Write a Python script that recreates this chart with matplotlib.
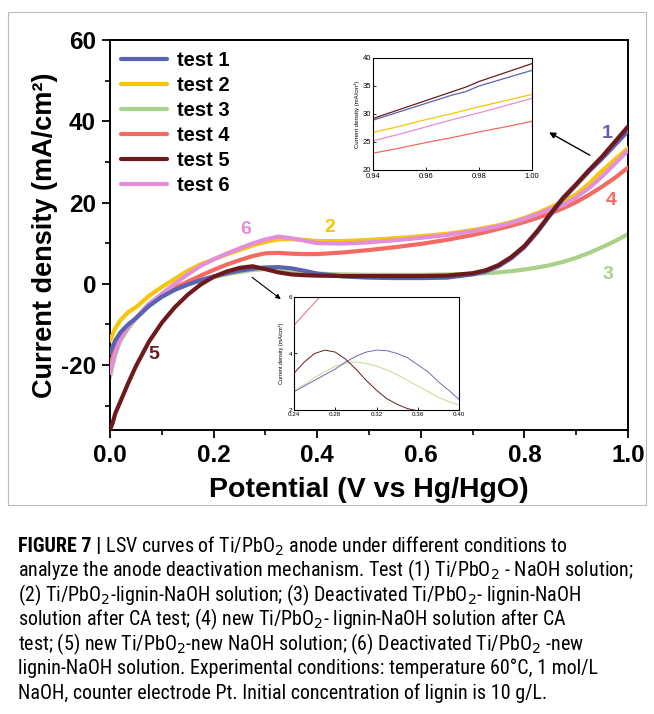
import os
import matplotlib
matplotlib.use("Agg")
import matplotlib.pyplot as plt
from matplotlib import font_manager as fm
from matplotlib.patches import Rectangle
import numpy as np

# ---------------- data ----------------
potential = [0, 0.005, 0.01, 0.02, 0.035, 0.05, 0.075, 0.1, 0.125, 0.15, 0.175, 0.2,
             0.225, 0.25, 0.275, 0.3, 0.325, 0.35, 0.375, 0.4, 0.45, 0.5, 0.55, 0.6,
             0.65, 0.7, 0.725, 0.75, 0.775, 0.8, 0.825, 0.85, 0.875, 0.9, 0.925, 0.95,
             0.975, 1.0]

test1 = [-17, -15.5, -14, -12, -10, -8.5, -5.5, -3.2, -1.5, -0.2, 0.9, 1.8, 2.6, 3.2, 3.7,
         4.0, 4.1, 3.8, 3.2, 2.5, 1.8, 1.5, 1.4, 1.4, 1.5, 2.3, 3.0, 4.3, 6.3, 9.0, 12.7,
         16.9, 20.9, 24.3, 27.7, 30.8, 34.2, 37.6]
test2 = [-14, -12.5, -11, -9, -7, -5.8, -3, -0.8, 1.2, 3.2, 4.8, 6.0, 7.2, 8.3, 9.4, 10.3,
         10.9, 11.0, 10.8, 10.5, 10.5, 10.8, 11.2, 11.7, 12.3, 13.2, 13.8, 14.4, 15.2, 16.2,
         17.4, 18.8, 20.3, 22.0, 24.7, 27.8, 30.6, 33.4]
test3 = [-23, -20, -17.5, -14, -11, -8.5, -5.5, -3.2, -1.5, -0.2, 0.8, 1.6, 2.3, 2.9, 3.4,
         3.6, 3.5, 3.2, 2.8, 2.5, 2.3, 2.2, 2.2, 2.2, 2.3, 2.4, 2.6, 2.8, 3.1, 3.5, 4.0,
         4.6, 5.4, 6.4, 7.6, 9.0, 10.5, 12.2]
test4 = [-20, -18, -16, -13.5, -10.5, -8.5, -5, -2.8, -1.0, 0.5, 2.0, 3.4, 4.7, 5.8, 6.8,
         7.5, 7.6, 7.4, 7.3, 7.3, 7.7, 8.3, 9.0, 9.8, 10.8, 12.0, 12.7, 13.5, 14.3, 15.2,
         16.2, 17.3, 18.6, 20.1, 21.9, 23.9, 26.1, 28.6]
test5 = [-36, -34.3, -32, -29, -24.5, -20.3, -14.3, -9.6, -5.8, -2.7, -0.2, 1.7, 3.0, 3.9,
         4.3, 3.6, 2.8, 2.3, 2.1, 2.0, 1.9, 1.9, 1.9, 1.9, 2.0, 2.6, 3.3, 4.6, 6.6, 9.3,
         13.0, 17.2, 21.2, 24.5, 28.0, 31.3, 35.0, 38.7]
test6 = [-22, -19.5, -17, -13.5, -10.5, -8.5, -5, -2.5, 0.0, 2.3, 4.4, 6.0, 7.4, 8.7, 9.9,
         10.9, 11.6, 11.2, 10.6, 10.0, 9.9, 10.2, 10.7, 11.3, 12.0, 12.9, 13.5, 14.2, 15.0,
         16.0, 17.1, 18.4, 19.3, 21.3, 23.6, 26.4, 29.6, 32.8]

# upper inset (0.94 - 1.00 V)
inset1_x = [0.94, 0.95, 0.96, 0.97, 0.975, 0.98, 0.99, 1.0]
inset1_t5 = [29.2, 30.8, 32.4, 34.0, 34.8, 35.8, 37.4, 39.0]
inset1_t1 = [28.9, 30.4, 31.9, 33.4, 34.0, 35.0, 36.4, 37.8]
inset1_t2 = [26.7, 27.8, 29.0, 30.1, 30.7, 31.3, 32.4, 33.5]
inset1_t6 = [25.2, 26.4, 27.7, 29.0, 29.6, 30.2, 31.5, 32.8]
inset1_t4 = [23.0, 23.9, 24.9, 25.8, 26.3, 26.8, 27.7, 28.7]

# lower inset (0.24 - 0.40 V)
inset2_x = [0.24, 0.25, 0.26, 0.27, 0.28, 0.29, 0.30, 0.31, 0.32, 0.33, 0.34, 0.35,
            0.36, 0.37, 0.38, 0.39, 0.40]
inset2_t5 = [3.3, 3.7, 4.0, 4.12, 4.05, 3.8, 3.45, 3.05, 2.7, 2.4, 2.2, 2.05, 1.97,
             1.9, 1.85, 1.8, 1.75]
inset2_t1 = [2.65, 2.85, 3.05, 3.25, 3.45, 3.7, 3.9, 4.05, 4.12, 4.1, 4.0, 3.85, 3.6,
             3.35, 3.0, 2.7, 2.38]
inset2_t3 = [2.65, 2.9, 3.15, 3.35, 3.55, 3.65, 3.7, 3.65, 3.55, 3.42, 3.25, 3.05, 2.85,
             2.65, 2.45, 2.3, 2.18]
inset2_top_x = [0.24, 0.265, 0.27]
inset2_top_y = [5.0, 6.0, 6.2]

labels = ["test 1", "test 2", "test 3", "test 4", "test 5", "test 6"]
colors = ["#5A62B2", "#F5C60A", "#A9D18A", "#F26B63", "#6E1A1C", "#E38ED8"]

xticks = [0.0, 0.2, 0.4, 0.6, 0.8, 1.0]
yticks = [-20, 0, 20, 40, 60]

caption_lines = [
    "analyze the anode deactivation mechanism. Test (1) Ti/PbO$_2$ - NaOH solution;",
    "(2) Ti/PbO$_2$-lignin-NaOH solution; (3) Deactivated Ti/PbO$_2$- lignin-NaOH",
    "solution after CA test; (4) new Ti/PbO$_2$- lignin-NaOH solution after CA",
    "test; (5) new Ti/PbO$_2$-new NaOH solution; (6) Deactivated Ti/PbO$_2$ -new",
    "lignin-NaOH solution. Experimental conditions: temperature 60\u00b0C, 1 mol/L",
    "NaOH, counter electrode Pt. Initial concentration of lignin is 10 g/L.",
]
caption_first_bold = "FIGURE 7 |"
caption_first_rest = " LSV curves of Ti/PbO$_2$ anode under different conditions to"

# ---------------- fonts ----------------
avail = {f.name for f in fm.fontManager.ttflist}
main_font = "Liberation Sans" if "Liberation Sans" in avail else "DejaVu Sans"


def find_font(prefs, bold=False):
    files = list(fm.fontManager.ttflist)
    for p in prefs:
        for f in files:
            if os.path.basename(f.fname).lower().startswith(p):
                return f
    for f in files:
        b = os.path.basename(f.fname).lower()
        if ("narrow" in b or "condensed" in b) and ("italic" not in b) and \
                ("oblique" not in b) and (("bold" in b) == bold):
            return f
    return None


nf = find_font(["liberationsansnarrow-regular", "robotocondensed-regular",
                "opensans_condensed-regular", "dejavusanscondensed."])
nfb = find_font(["liberationsansnarrow-bold.", "robotocondensed-bold.",
                 "opensans_condensed-bold.", "dejavusanscondensed-bold."], bold=True)
if nf is not None:
    cap_prop = fm.FontProperties(fname=nf.fname)
    cap_family = nf.name
else:
    cap_prop = fm.FontProperties(family=main_font)
    cap_family = main_font
if nfb is not None:
    capb_prop = fm.FontProperties(fname=nfb.fname)
else:
    capb_prop = fm.FontProperties(family=main_font, weight="bold")

plt.rcParams["font.family"] = [main_font, "DejaVu Sans"]
plt.rcParams["mathtext.fontset"] = "custom"
plt.rcParams["mathtext.rm"] = cap_family
plt.rcParams["mathtext.it"] = cap_family
plt.rcParams["mathtext.default"] = "rm"

W, H = 654, 714
fig = plt.figure(figsize=(W / 100, H / 100), dpi=100)

# light frame around the chart
fig.add_artist(Rectangle((8 / W, 1 - 505 / H), (646 - 8) / W, (505 - 12) / H,
                         transform=fig.transFigure, fill=False, ec="#BBBBBB", lw=0.8))

ax = fig.add_axes([110 / W, 1 - 430 / H, (628 - 110) / W, (430 - 40) / H])
series = [test1, test2, test3, test4, test5, test6]
order = [2, 3, 1, 5, 0, 4]
handles = {}
for i in order:
    h, = ax.plot(potential, series[i], color=colors[i], lw=3.0, solid_capstyle="round",
                 zorder=2 + order.index(i))
    handles[i] = h
ax.set_xlim(0, 1.0)
ax.set_ylim(-36, 60)
ax.set_xticks(xticks)
ax.set_xticklabels([f"{v:.1f}" for v in xticks])
ax.set_yticks(yticks)
ax.set_yticklabels([str(v) for v in yticks])
ax.set_xticks(np.arange(0.1, 1.0, 0.2), minor=True)
ax.set_yticks([-30, -10, 10, 30, 50], minor=True)
ax.tick_params(which="major", direction="out", length=6, width=1.3, labelsize=17.5, pad=4)
ax.tick_params(which="minor", direction="out", length=3.5, width=1.2)
for lab in ax.get_xticklabels() + ax.get_yticklabels():
    lab.set_fontweight("bold")
for s in ax.spines.values():
    s.set_linewidth(1.4)
ax.set_xlabel("Potential (V vs Hg/HgO)", fontsize=20.5, fontweight="bold")
ax.set_ylabel("Current density (mA/cm\u00b2)", fontsize=19.5, fontweight="bold")
ax.xaxis.set_label_coords(0.5, -0.12)
ax.yaxis.set_label_coords(-0.1, 0.5)

leg = ax.legend([handles[i] for i in range(6)], labels, loc="upper left",
                bbox_to_anchor=(0.0, 1.0), frameon=False,
                prop={"weight": "bold", "size": 14.5}, handlelength=2.3,
                handletextpad=0.5, labelspacing=0.3, borderaxespad=0.15)

# curve number labels
ax.text(0.96, 37.0, "1", color=colors[0], fontsize=14, fontweight="bold", ha="center", va="center")
ax.text(0.425, 13.8, "2", color=colors[1], fontsize=14, fontweight="bold", ha="center", va="center")
ax.text(0.962, 2.3, "3", color=colors[2], fontsize=14, fontweight="bold", ha="center", va="center")
ax.text(0.967, 20.5, "4", color=colors[3], fontsize=14, fontweight="bold", ha="center", va="center")
ax.text(0.085, -17.5, "5", color=colors[4], fontsize=14, fontweight="bold", ha="center", va="center")
ax.text(0.261, 13.4, "6", color=colors[5], fontsize=14, fontweight="bold", ha="center", va="center")

# arrows
ax.annotate("", xy=(0.843, 37.6), xytext=(0.931, 31.3),
            arrowprops=dict(arrowstyle="-|>", color="black", lw=1.0, mutation_scale=9))
ax.annotate("", xy=(0.334, -4.2), xytext=(0.27, 2.0),
            arrowprops=dict(arrowstyle="-|>", color="black", lw=0.8, mutation_scale=7))

# upper inset
ax1 = fig.add_axes([373 / W, 1 - 170 / H, (532 - 373) / W, (170 - 58) / H])
for xs, ys, c in [(inset1_x, inset1_t4, colors[3]), (inset1_x, inset1_t6, colors[5]),
                  (inset1_x, inset1_t2, colors[1]), (inset1_x, inset1_t1, colors[0]),
                  (inset1_x, inset1_t5, colors[4])]:
    ax1.plot(xs, ys, color=c, lw=0.9)
ax1.set_xlim(0.94, 1.0)
ax1.set_ylim(20, 40)
ax1.set_xticks([0.94, 0.96, 0.98, 1.00])
ax1.set_xticklabels(["0.94", "0.96", "0.98", "1.00"])
ax1.set_yticks([20, 25, 30, 35, 40])
ax1.tick_params(direction="in", length=2, width=0.6, labelsize=5.5, pad=1.5)
ax1.tick_params(axis="x", pad=2.2)
ax1.set_ylabel("Current density (mA/cm\u00b2)", fontsize=4.3, labelpad=2)
for s in ax1.spines.values():
    s.set_linewidth(0.8)

# lower inset
ax2 = fig.add_axes([294 / W, 1 - 410 / H, (459 - 294) / W, (410 - 297) / H])
ax2.plot(inset2_top_x, inset2_top_y, color="#D9707A", lw=0.7)
ax2.plot(inset2_x, inset2_t3, color="#C8D890", lw=0.7)
ax2.plot(inset2_x, inset2_t1, color="#6A6AB8", lw=0.7)
ax2.plot(inset2_x, inset2_t5, color="#6E1A1C", lw=0.7)
ax2.set_xlim(0.24, 0.40)
ax2.set_ylim(2, 6)
ax2.set_xticks([0.24, 0.28, 0.32, 0.36, 0.40])
ax2.set_xticklabels(["0.24", "0.28", "0.32", "0.36", "0.40"])
ax2.set_yticks([2, 4, 6])
ax2.tick_params(direction="in", length=2, width=0.6, labelsize=4.5, pad=1.5)
ax2.set_ylabel("Current density (mA/cm\u00b2)", fontsize=4.0, labelpad=3)
for s in ax2.spines.values():
    s.set_linewidth(0.8)

# caption: size chosen so the longest line spans ~616 px like the reference
x0 = 18 / W
renderer = fig.canvas.get_renderer()
base = 13.5
probe = fig.text(0, 0, caption_lines[0], fontproperties=cap_prop, fontsize=base)
wpx = probe.get_window_extent(renderer=renderer).width
probe.remove()
cap_size = min(14.6, base * 616 / wpx)

y_first = 1 - 546 / H
t_bold = fig.text(x0, y_first, caption_first_bold, fontproperties=capb_prop,
                  fontsize=cap_size, va="center", ha="left")
bb = t_bold.get_window_extent(renderer=renderer)
fig.text(bb.x1 / fig.bbox.width, y_first, caption_first_rest, fontproperties=cap_prop,
         fontsize=cap_size, va="center", ha="left")
for k, line in enumerate(caption_lines):
    fig.text(x0, 1 - (546 + 24.5 * (k + 1)) / H, line, fontproperties=cap_prop,
             fontsize=cap_size, va="center", ha="left")

fig.savefig("out.png", dpi=100)
